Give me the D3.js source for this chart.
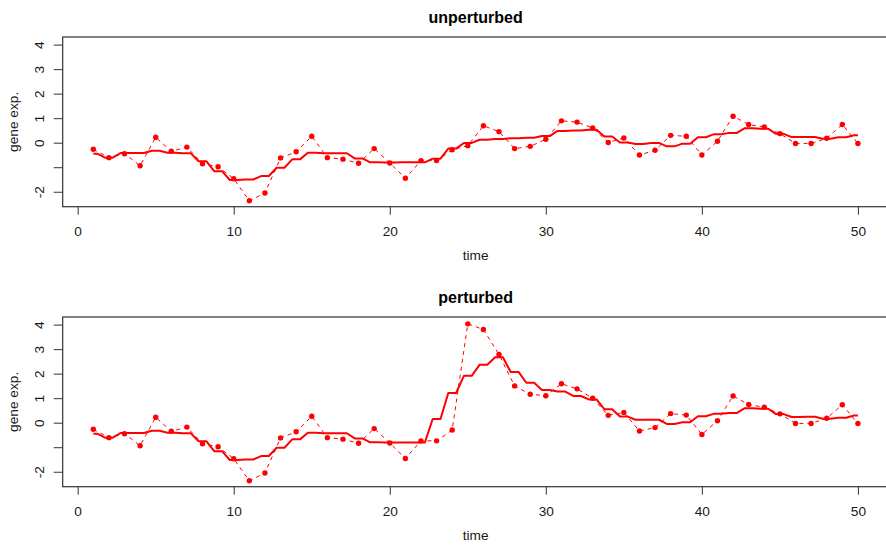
<!DOCTYPE html>
<html>
<head>
<meta charset="utf-8">
<script src="https://cdn.jsdelivr.net/npm/d3@7"></script>
<style>
  html, body { margin: 0; padding: 0; background: #fff; }
  svg { display: block; font-family: "Liberation Sans", Arial, Helvetica, sans-serif; }
</style>
</head>
<body>
<svg id="chart" width="886" height="545"></svg>
<script>
// ---------- data ----------
const time = [1,2,3,4,5,6,7,8,9,10,11,12,13,14,15,16,17,18,19,20,21,22,23,24,25,26,27,28,29,30,31,32,33,34,35,36,37,38,39,40,41,42,43,44,45,46,47,48,49,50];

const unpertObs = [-0.27,-0.61,-0.45,-0.94,0.22,-0.35,-0.18,-0.86,-0.98,-1.47,
  -2.37,-2.05,-0.62,-0.37,0.26,-0.61,-0.67,-0.84,-0.24,-0.83,
  -1.45,-0.73,-0.73,-0.29,-0.12,0.69,0.45,-0.24,-0.15,0.14,
  0.89,0.84,0.60,0.01,0.19,-0.50,-0.31,0.30,0.26,-0.50,
  0.06,1.08,0.74,0.64,0.37,-0.03,-0.03,0.18,0.74,-0.03];

const unpertFit = [-0.45,-0.61,-0.42,-0.42,-0.33,-0.41,-0.43,-0.76,-1.16,-1.52,
  -1.50,-1.36,-1.02,-0.68,-0.41,-0.43,-0.43,-0.64,-0.80,-0.81,
  -0.80,-0.80,-0.65,-0.24,-0.01,0.12,0.15,0.18,0.20,0.27,
  0.48,0.50,0.53,0.25,0.01,-0.05,-0.01,-0.15,-0.04,0.22,
  0.34,0.40,0.59,0.57,0.36,0.23,0.23,0.16,0.22,0.30];

const pertObs = [-0.27,-0.61,-0.45,-0.94,0.22,-0.35,-0.18,-0.86,-0.98,-1.47,
  -2.37,-2.05,-0.62,-0.37,0.26,-0.61,-0.67,-0.84,-0.24,-0.83,
  -1.46,-0.74,-0.74,-0.30,4.03,3.80,2.78,1.50,1.16,1.10,
  1.59,1.38,1.00,0.30,0.42,-0.34,-0.20,0.37,0.31,-0.48,
  0.08,1.09,0.74,0.63,0.36,-0.03,-0.03,0.18,0.73,-0.03];

const pertFit = [-0.45,-0.61,-0.42,-0.42,-0.33,-0.41,-0.43,-0.76,-1.16,-1.52,
  -1.50,-1.36,-1.02,-0.68,-0.41,-0.43,-0.43,-0.64,-0.80,-0.81,
  -0.81,-0.81,0.15,1.21,1.91,2.36,2.67,2.07,1.63,1.33,
  1.27,1.09,0.95,0.55,0.25,0.12,0.12,-0.05,0.02,0.26,
  0.36,0.40,0.59,0.57,0.35,0.23,0.24,0.16,0.20,0.29];

const xTicks = [0,10,20,30,40,50];
const xTickLabels = ["0","10","20","30","40","50"];
const yTicks = [-2,-1,0,1,2,3,4];
const yTickLabels = ["-2","","0","1","2","3","4"];

const panels = [
  { title: "unperturbed", obs: unpertObs, fit: unpertFit },
  { title: "perturbed",   obs: pertObs,   fit: pertFit }
];

// ---------- layout ----------
const svg = d3.select("#chart");
const panelOffset = 280;
const plotLeft = 62.7, plotRight = 888.5, plotTop = 37, plotBottom = 206.7;
const red = "#ff0000";
const textCol = "#1a1a1a";
const fs = 13.7;

const x = d3.scaleLinear().domain([-0.96, 51.96]).range([plotLeft, plotRight]);
const y = d3.scaleLinear().domain([-2.61, 4.31]).range([plotBottom, plotTop]);

const halfFlat = 0.25;

panels.forEach((p, i) => {
  const g = svg.append("g").attr("transform", `translate(0,${i * panelOffset})`);

  // title
  g.append("text")
    .attr("x", (plotLeft + plotRight) / 2)
    .attr("y", 22.8)
    .attr("text-anchor", "middle")
    .attr("font-size", 16)
    .attr("font-weight", "bold")
    .attr("fill", "#000")
    .text(p.title);

  // x axis
  const xAxis = d3.axisBottom(x)
    .tickValues(xTicks)
    .tickFormat((d, k) => xTickLabels[k])
    .tickSize(8)
    .tickPadding(11.5)
    .tickSizeOuter(0);
  const gx = g.append("g").attr("transform", `translate(0,${plotBottom})`).call(xAxis);
  gx.select(".domain").remove();
  gx.selectAll("line").attr("stroke", "#333");
  gx.selectAll("text").attr("font-size", fs).attr("fill", textCol)
    .attr("font-family", "Liberation Sans, Arial, sans-serif");

  // y axis
  const yAxis = d3.axisLeft(y)
    .tickValues(yTicks)
    .tickFormat((d, k) => yTickLabels[k])
    .tickSize(9)
    .tickSizeOuter(0);
  const gy = g.append("g").attr("transform", `translate(${plotLeft},0)`).call(yAxis);
  gy.select(".domain").remove();
  gy.selectAll("line").attr("stroke", "#333");
  gy.selectAll(".tick text")
    .attr("font-size", fs)
    .attr("fill", textCol)
    .attr("font-family", "Liberation Sans, Arial, sans-serif")
    .attr("x", null).attr("y", 0)
    .attr("text-anchor", "middle")
    .attr("dy", "0.35em")
    .attr("transform", "translate(-23.5,0) rotate(-90)");

  // axis titles
  g.append("text")
    .attr("x", (plotLeft + plotRight) / 2)
    .attr("y", 259.5)
    .attr("text-anchor", "middle")
    .attr("font-size", fs)
    .attr("fill", textCol)
    .text("time");
  g.append("text")
    .attr("transform", `translate(18,${(plotTop + plotBottom) / 2}) rotate(-90)`)
    .attr("text-anchor", "middle")
    .attr("font-size", fs)
    .attr("fill", textCol)
    .text("gene exp.");

  // clip
  const clipId = "clip" + i;
  g.append("clipPath").attr("id", clipId)
    .append("rect").attr("x", plotLeft).attr("y", plotTop)
    .attr("width", plotRight - plotLeft).attr("height", plotBottom - plotTop);

  const plot = g.append("g").attr("clip-path", `url(#${clipId})`);

  // observed: dashed line + dots
  const obsData = time.map((t, k) => [t, p.obs[k]]);
  plot.append("path")
    .datum(obsData)
    .attr("d", d3.line().x(d => x(d[0])).y(d => y(d[1])))
    .attr("fill", "none")
    .attr("stroke", red)
    .attr("stroke-width", 1)
    .attr("stroke-dasharray", "4,4");

  // fitted: solid line, each value held flat around its time point
  const fitPts = [];
  time.forEach((t, k) => {
    const a = Math.max(time[0], t - halfFlat);
    const b = Math.min(time[time.length - 1], t + halfFlat);
    fitPts.push([a, p.fit[k]], [b, p.fit[k]]);
  });
  plot.append("path")
    .datum(fitPts)
    .attr("d", d3.line().x(d => x(d[0])).y(d => y(d[1])))
    .attr("fill", "none")
    .attr("stroke", red)
    .attr("stroke-width", 2)
    .attr("stroke-linejoin", "round");

  plot.selectAll("circle.obs")
    .data(obsData)
    .join("circle")
    .attr("class", "obs")
    .attr("cx", d => x(d[0]))
    .attr("cy", d => y(d[1]))
    .attr("r", 2.7)
    .attr("fill", red);

  // box
  g.append("rect")
    .attr("x", plotLeft).attr("y", plotTop)
    .attr("width", plotRight - plotLeft).attr("height", plotBottom - plotTop)
    .attr("fill", "none")
    .attr("stroke", "#333")
    .attr("stroke-width", 1.2);
});
</script>
</body>
</html>
